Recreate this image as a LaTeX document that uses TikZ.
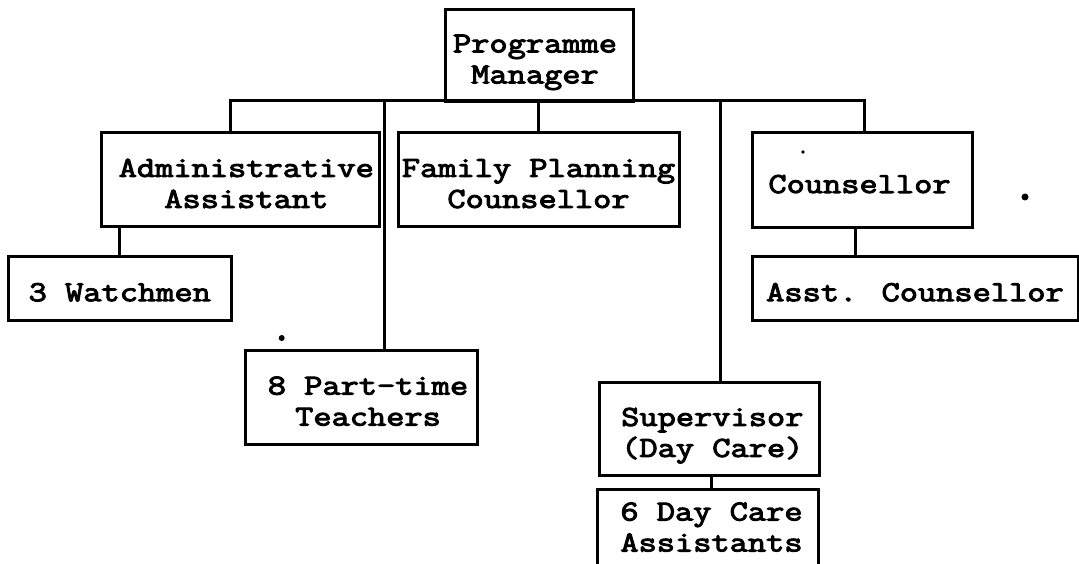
\documentclass[tikz,border=0pt]{standalone}
\usepackage{fontspec}
\newfontfamily\typer{Latin Modern Mono}[FakeStretch=1.22, FakeBold=3.5]
\usetikzlibrary{calc}

% box text: optional horizontal offset, lines centred, set slightly low as typed
\newcommand{\boxlines}[2][0pt]{\hspace*{#1}\raisebox{-6.5pt}[\height][\depth]{\begin{tabular}{@{}c@{}}#2\end{tabular}}}

\begin{document}
\begin{tikzpicture}[x=1pt,y=-1pt,
  line width=3pt,
  typed/.style={inner sep=0pt, align=center,
    font=\typer\fontsize{29pt}{31pt}\selectfont},
  orgbox/.style={typed, draw, line width=3pt},
]
\path[use as bounding box, clip] (0,0) rectangle (1079,564);
\fill[white] (0,0) rectangle (1079,564);

% positions
\node[orgbox, minimum width=188pt, minimum height=91.7pt] (pm) at (539,55.2)
  {\boxlines[-8pt]{Programme\\Manager}};

\node[orgbox, minimum width=277.4pt, minimum height=94pt] (admin) at (240.3,179.7)
  {\boxlines[12pt]{Administrative\\Assistant}};
\node[orgbox, minimum width=281pt, minimum height=94pt] (fp) at (538.5,179.7)
  {\boxlines{Family Planning\\Counsellor}};
\node[orgbox, minimum width=220pt, minimum height=94.7pt] (couns) at (862,180.3)
  {\boxlines[-5pt]{Counsellor}};

\node[orgbox, minimum width=222.4pt, minimum height=63.6pt] (watch) at (119.8,288.5)
  {\boxlines{3 Watchmen}};
\node[orgbox, minimum width=326pt, minimum height=63.6pt] (asst) at (915,288.5)
  {\boxlines{Asst. Counsellor}};

\node[orgbox, minimum width=232pt, minimum height=94.2pt] (pt) at (361,397.4)
  {\boxlines[14pt]{8 Part-time\\Teachers}};
\node[orgbox, minimum width=220.5pt, minimum height=93.3pt] (sv) at (709.3,428.7)
  {\boxlines[6pt]{Supervisor\\(Day Care)}};
\node[typed, minimum width=218pt, minimum height=65.6pt] (dc) at (708,523.3)
  {\boxlines[7pt]{6 Day Care\\Assistants}};
% last box runs off the bottom of the sheet
\draw ($(dc.south west)+(0,15)$) -- (dc.north west) -- (dc.north east)
  -- ($(dc.south east)+(0,15)$);

% reporting lines
\coordinate (busL) at (230,101);
\coordinate (busR) at (864,101);
\coordinate (tapPT) at (384,101);
\coordinate (tapSV) at (720,101);
\draw (busL |- admin.north) -- (busL) -- (busR) -- (busR |- couns.north);
\draw (fp.north) -- (fp.north |- pm.south);
\draw (tapPT) -- (tapPT |- pt.north);
\draw (tapSV) -- (tapSV |- sv.north);
\draw (watch.north) -- (watch.north |- admin.south);
\coordinate (tapAC) at ($(couns.south)+(-7,0)$);
\draw (tapAC) -- (tapAC |- asst.north);
\coordinate (tapDC) at ($(sv.south)+(2,0)$);
\draw (tapDC) -- (tapDC |- dc.north);

% stray typewriter specks
\fill (1025,197) circle (3.5pt);
\fill (281.7,338) circle (3pt);
\fill (803,152) circle (1.8pt);
\end{tikzpicture}
\end{document}
